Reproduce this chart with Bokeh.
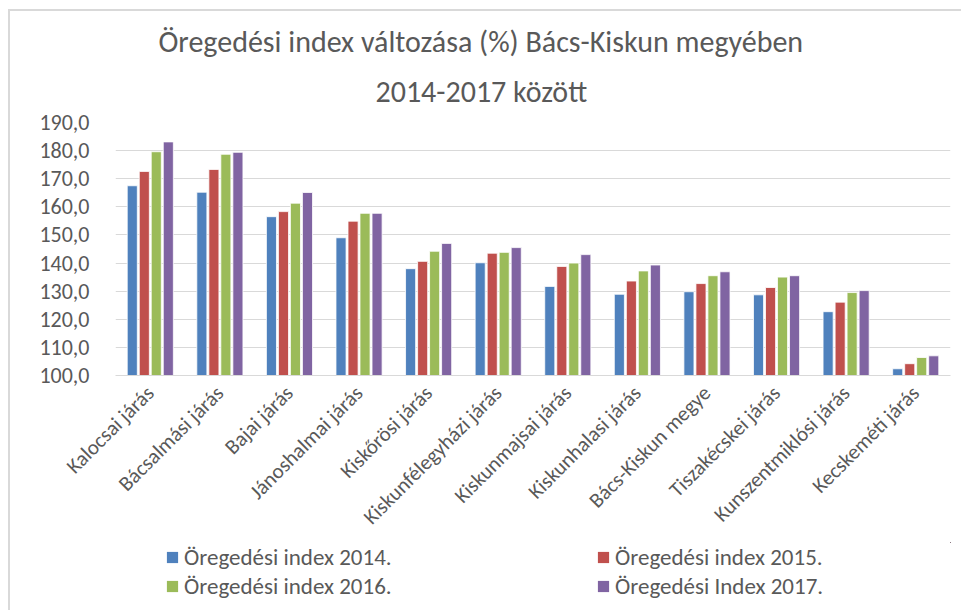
import math
from bokeh.plotting import figure
from bokeh.layouts import column
from bokeh.models import (ColumnDataSource, FactorRange, Range1d, FixedTicker, Legend,
                          LegendItem, Title)
from bokeh.transform import dodge
from bokeh.embed import file_html
from bokeh.resources import INLINE

categories = ["Kalocsai járás", "Bácsalmási járás", "Bajai járás", "Jánoshalmai járás",
              "Kiskőrösi járás", "Kiskunfélegyházi járás", "Kiskunmajsai járás",
              "Kiskunhalasi járás", "Bács-Kiskun megye", "Tiszakécskei járás",
              "Kunszentmiklósi járás", "Kecskeméti járás"]
idx_2014 = [167.5, 165.2, 156.5, 149.0, 138.0, 140.1, 131.7, 128.9, 129.8, 128.7, 122.7, 102.4]
idx_2015 = [172.6, 173.3, 158.3, 154.9, 140.6, 143.5, 138.8, 133.6, 132.7, 131.3, 126.1, 104.2]
idx_2016 = [179.6, 178.7, 161.3, 157.7, 144.2, 143.8, 140.0, 137.2, 135.5, 135.0, 129.5, 106.4]
idx_2017 = [183.1, 179.4, 165.1, 157.7, 147.0, 145.5, 143.0, 139.3, 136.9, 135.5, 130.2, 107.0]
series_names = ["Öregedési index 2014.", "Öregedési index 2015.",
                "Öregedési index 2016.", "Öregedési Index 2017."]
y_ticks = [100, 110, 120, 130, 140, 150, 160, 170, 180, 190]
y_tick_labels = ["100,0", "110,0", "120,0", "130,0", "140,0", "150,0",
                 "160,0", "170,0", "180,0", "190,0"]
title_lines = ["Öregedési index változása (%) Bács-Kiskun megyében", "2014-2017 között"]

colors = ["#4F81BD", "#C0504D", "#9BBB59", "#8064A2"]
FONT = "Carlito, Lato, sans-serif"
TXT = "#595959"
cols = ["s0", "s1", "s2", "s3"]

src = ColumnDataSource(dict(cat=categories, s0=idx_2014, s1=idx_2015, s2=idx_2016, s3=idx_2017))

# ---- main chart ----
p = figure(width=951, height=531, x_range=FactorRange(*categories),
           y_range=Range1d(100, 190), output_backend="svg", toolbar_location=None,
           min_border_left=105, min_border_right=11, min_border_top=111,
           min_border_bottom=167)
p.title = None

offsets = [-0.259, -0.086, 0.086, 0.259]
for i, col in enumerate(cols):
    p.vbar(x=dodge("cat", offsets[i], range=p.x_range), top=col, bottom=100,
           width=0.145, source=src, fill_color=colors[i], line_color="white",
           line_width=0.8)

p.yaxis.ticker = FixedTicker(ticks=y_ticks)
p.yaxis.major_label_overrides = {t: l for t, l in zip(y_ticks, y_tick_labels)}
p.yaxis.axis_line_color = None
p.yaxis.major_tick_line_color = None
p.yaxis.minor_tick_line_color = None
p.yaxis.major_label_text_font = FONT
p.yaxis.major_label_text_font_size = "22px"
p.yaxis.major_label_text_color = TXT
p.yaxis.major_label_standoff = 20

p.xaxis.axis_line_color = "#d9d9d9"
p.xaxis.major_tick_line_color = None
p.xaxis.minor_tick_line_color = None
p.xaxis.major_label_orientation = math.pi / 4
p.xaxis.major_label_text_font = FONT
p.xaxis.major_label_text_font_size = "21px"
p.xaxis.major_label_text_color = TXT
p.xaxis.major_label_standoff = 8

p.xgrid.grid_line_color = None
p.ygrid.grid_line_color = "#d9d9d9"
p.ygrid.grid_line_width = 1
p.outline_line_color = None

title_offsets = [260, 43]
title_standoffs = [26, -5]
for i, t in enumerate(reversed(title_lines)):
    p.add_layout(Title(text=t, align="left", text_font=FONT, text_font_size="30px",
                       text_font_style="normal", text_color=TXT, offset=title_offsets[i],
                       standoff=title_standoffs[i]), "above")

# ---- legend strip ----
lg = figure(width=951, height=68, x_range=Range1d(0, 1), y_range=Range1d(0, 1),
            output_backend="svg", toolbar_location=None,
            min_border_left=0, min_border_right=0, min_border_top=0, min_border_bottom=0)
lg.title = None
lg.axis.visible = False
lg.grid.visible = False
lg.outline_line_color = None
items = []
for i, (col, name) in enumerate(zip(cols, series_names)):
    r = lg.vbar(x="cat", top=col, bottom=100, width=0.5,
                source=ColumnDataSource(dict(cat=[c + 50 for c in range(len(categories))],
                                             **{col: src.data[col]})),
                fill_color=colors[i], line_color=None)
    items.append(LegendItem(label=name, renderers=[r]))

legend = Legend(items=items, orientation="horizontal", ncols=2, location=(50, 10),
                label_text_font=FONT, label_text_font_size="23px", label_text_color=TXT,
                glyph_width=14, glyph_height=14, label_standoff=5, label_width=411,
                spacing=1, padding=0, margin=0, border_line_color=None,
                background_fill_alpha=0)
lg.add_layout(legend, "center")

layout = column(p, lg, spacing=0,
                styles={"margin-left": "8px", "margin-top": "9px",
                        "border-left": "2px solid #d9d9d9",
                        "border-top": "2px solid #d9d9d9"})

open("out.html", "w").write(file_html(layout, INLINE))
